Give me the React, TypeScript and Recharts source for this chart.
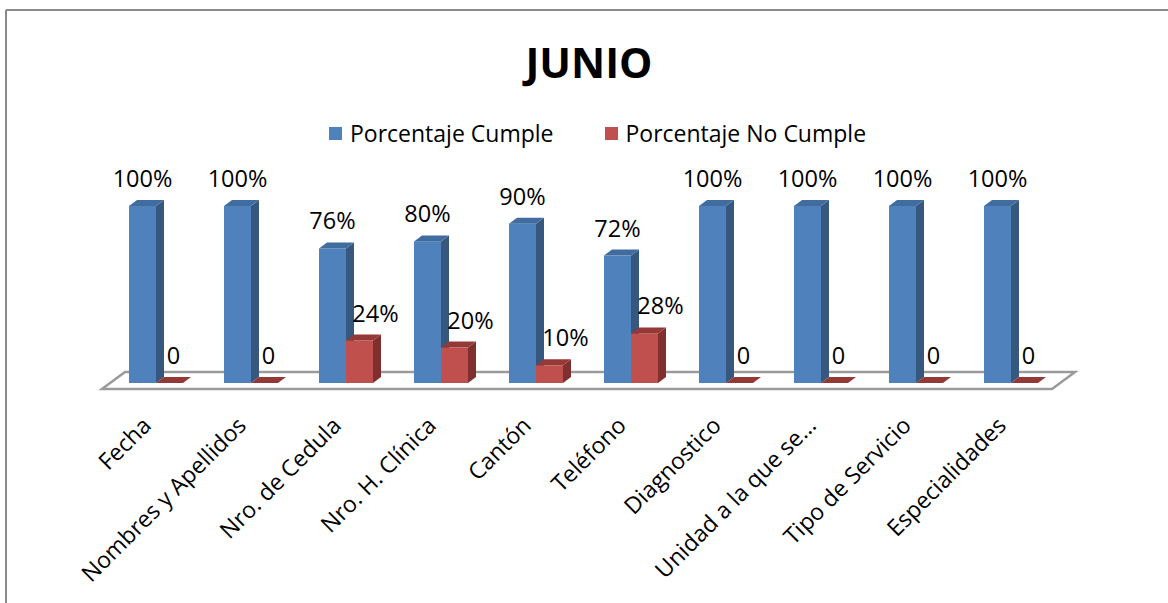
import { BarChart, Bar, XAxis, YAxis, Legend, LabelList } from 'recharts';

// Chart data
const categories = [
  'Fecha',
  'Nombres y Apellidos',
  'Nro. de Cedula',
  'Nro. H. Clínica',
  'Cantón',
  'Teléfono',
  'Diagnostico',
  'Unidad a la que se...',
  'Tipo de Servicio',
  'Especialidades',
];
const cumple = [100, 100, 76, 80, 90, 72, 100, 100, 100, 100];
const noCumple = [0, 0, 24, 20, 10, 28, 0, 0, 0, 0];

const W = 1168;
const H = 603;
const AXIS_H = 30;
const MARGIN = { top: 206, right: 110, bottom: 220 - AXIS_H, left: 108 };
const FONT = '"Open Sans", sans-serif';
const DX = 8; // depth offset for the fake 3D look
const DY = 6;

const BLUE = { front: '#4F81BD', side: '#36587F', top: '#416C9F' };
const RED = { front: '#C0504D', side: '#7F302E', top: '#953936' };

const data = categories.map((name, i) => ({
  name,
  cumple: cumple[i],
  noCumple: noCumple[i],
}));

function makeBox(colors: { front: string; side: string; top: string }) {
  return (props: any) => {
    const { x, y, width, height } = props;
    const w = width;
    const h = Math.max(0, height);
    return (
      <g>
        {h > 0 && <rect x={x} y={y} width={w} height={h} fill={colors.front} />}
        {h > 0 && (
          <polygon
            points={`${x + w},${y} ${x + w + DX},${y - DY} ${x + w + DX},${y + h - DY} ${x + w},${y + h}`}
            fill={colors.side}
          />
        )}
        <polygon
          points={`${x},${y} ${x + DX},${y - DY} ${x + w + DX},${y - DY} ${x + w},${y}`}
          fill={colors.top}
        />
      </g>
    );
  };
}

const makeLabel = (shift: number) => (props: any) => {
  const { x, y, width, value } = props;
  const text = value === 0 ? '0' : `${value}%`;
  const dx = value === 0 ? 4 : shift;
  return (
    <text x={x + width / 2 + dx} y={y - 19} textAnchor="middle" fontSize={23.5} fontFamily={FONT} fill="#000">
      {text}
    </text>
  );
};

const CategoryTick = (props: any) => {
  const { x, y, payload } = props;
  const ax = x - 3;
  const ay = y + 36;
  return (
    <text
      x={ax}
      y={ay}
      textAnchor="end"
      fontSize={23}
      fontFamily={FONT}
      fill="#000"
      transform={`rotate(-45, ${ax}, ${ay})`}
    >
      {payload.value}
    </text>
  );
};

const LegendContent = () => (
  <div style={{ display: 'flex', alignItems: 'center', fontFamily: FONT, fontSize: 23, color: '#000' }}>
    <span style={{ width: 13, height: 13, background: BLUE.front, marginRight: 8 }} />
    <span style={{ marginRight: 52 }}>Porcentaje Cumple</span>
    <span style={{ width: 13, height: 13, background: RED.front, marginRight: 7 }} />
    <span>Porcentaje No Cumple</span>
  </div>
);

export default function App() {
  const plotLeft = MARGIN.left;
  const plotRight = W - MARGIN.right;
  const base = H - MARGIN.bottom - AXIS_H;

  return (
    <div style={{ position: 'absolute', left: 0, top: 0, width: W, height: H, background: '#fff', overflow: 'hidden' }}>
      <svg width={W} height={H} style={{ position: 'absolute', left: 0, top: 0 }}>
        {/* chart frame */}
        <line x1={6} y1={10} x2={W} y2={10} stroke="#8a8a8a" strokeWidth={2} />
        <line x1={6} y1={10} x2={6} y2={H} stroke="#8a8a8a" strokeWidth={2} />
        <text x={589} y={78} textAnchor="middle" fontSize={42} fontWeight="bold" fontFamily={FONT} fill="#000">
          JUNIO
        </text>
        {/* floor of the 3D plot */}
        <polygon
          points={`${plotLeft - 6},${base + 6} ${plotLeft + 17},${base - 11} ${plotRight + 17},${base - 11} ${plotRight - 6},${base + 6}`}
          fill="#fff"
          stroke="#9a9a9a"
          strokeWidth={2.5}
        />
      </svg>
      <div style={{ position: 'absolute', left: 0, top: 0 }}>
        <BarChart width={W} height={H} data={data} margin={MARGIN} barGap={0} barSize={27}>
          <XAxis dataKey="name" height={AXIS_H} axisLine={false} tickLine={false} interval={0} tick={<CategoryTick />} />
          <YAxis hide domain={[0, 100]} />
          <Legend
            layout="horizontal"
            verticalAlign="middle"
            align="center"
            content={<LegendContent />}
            wrapperStyle={{ top: 117, left: 329, width: 'auto' }}
          />
          <Bar dataKey="cumple" name="Porcentaje Cumple" fill={BLUE.front} shape={makeBox(BLUE)} isAnimationActive={false}>
            <LabelList dataKey="cumple" content={makeLabel(0)} />
          </Bar>
          <Bar dataKey="noCumple" name="Porcentaje No Cumple" fill={RED.front} shape={makeBox(RED)} isAnimationActive={false}>
            <LabelList dataKey="noCumple" content={makeLabel(16)} />
          </Bar>
        </BarChart>
      </div>
    </div>
  );
}
